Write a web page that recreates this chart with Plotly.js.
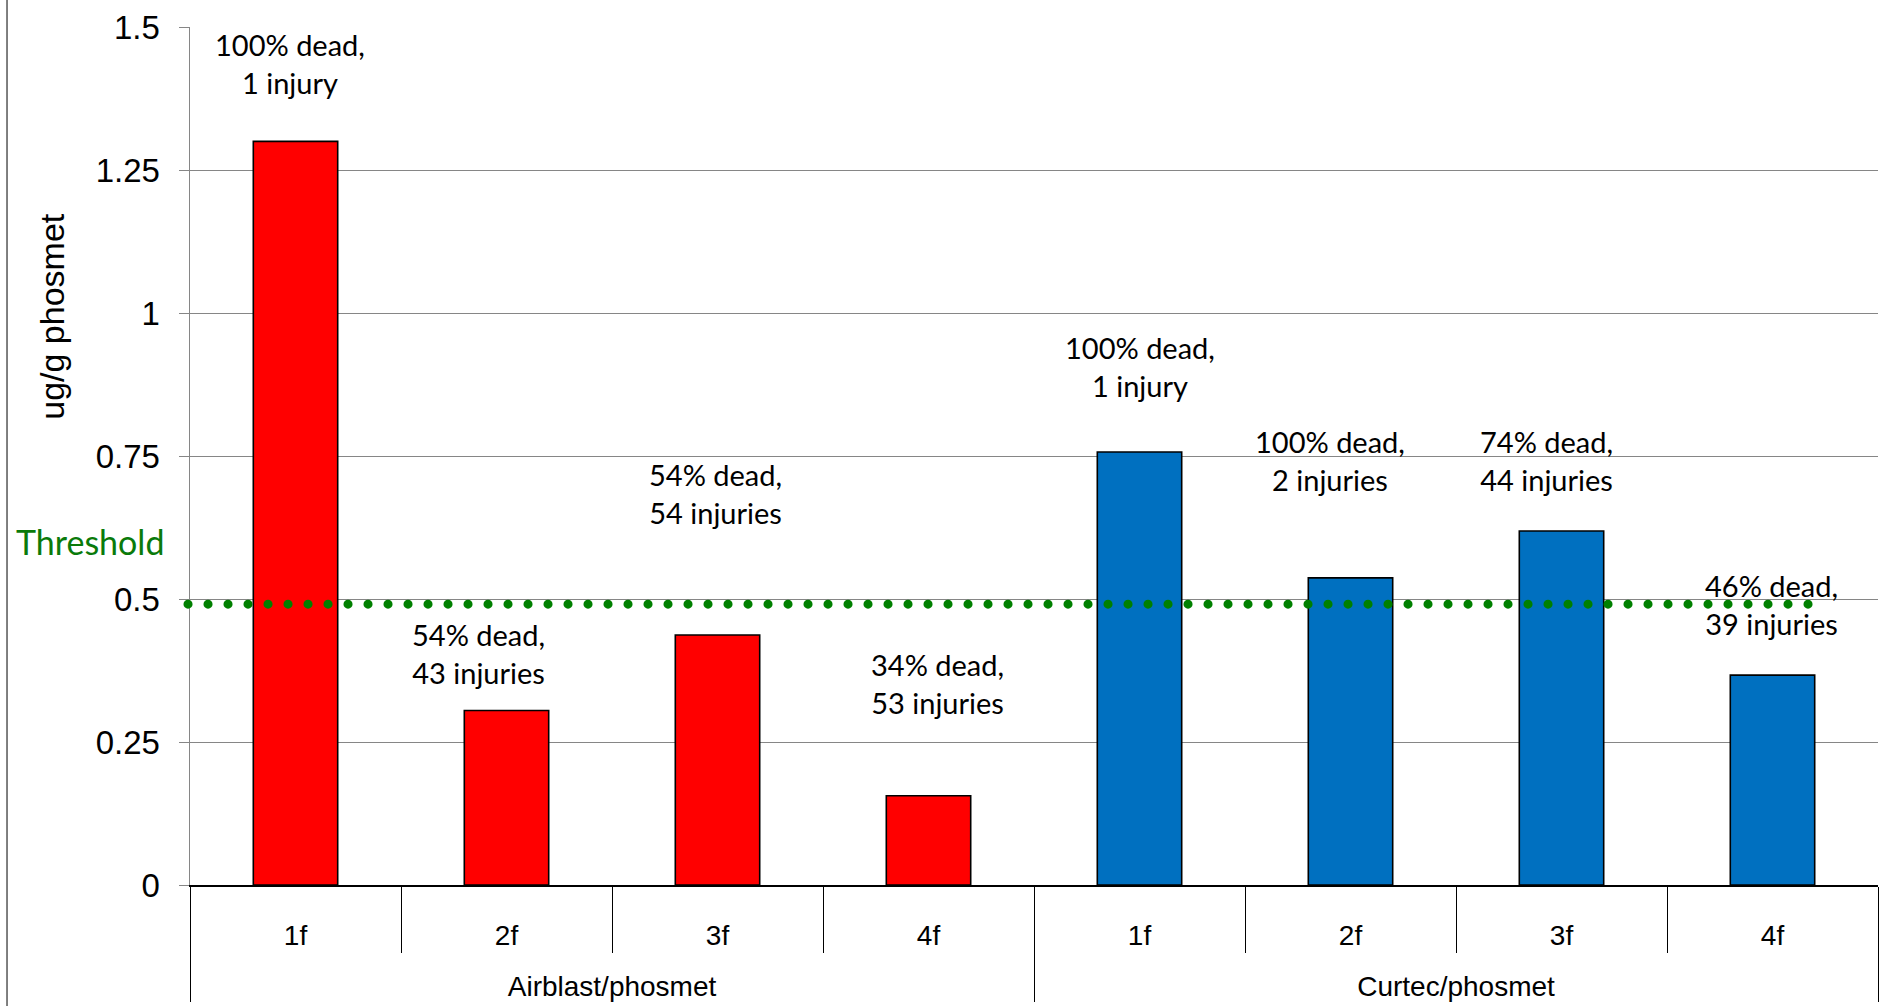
<!DOCTYPE html>
<html>
<head>
<meta charset="utf-8">
<script src="https://cdn.plot.ly/plotly-3.0.1.min.js"></script>
<style>
  html, body { margin: 0; padding: 0; background: #fff; }
  #chart { width: 1879px; height: 1006px; }
  .shapelayer path { stroke-linecap: round !important; }
</style>
</head>
<body>
<div id="chart"></div>
<script>
// ---- data ----
const groups = ['Airblast/phosmet', 'Airblast/phosmet', 'Airblast/phosmet', 'Airblast/phosmet',
                'Curtec/phosmet', 'Curtec/phosmet', 'Curtec/phosmet', 'Curtec/phosmet'];
const categories = ['1f', '2f', '3f', '4f', '1f', '2f', '3f', '4f'];
const values = [1.30, 0.305, 0.437, 0.156, 0.757, 0.537, 0.619, 0.367];
const noteText = [
  '100% dead,<br>1 injury',
  '54% dead,<br>43 injuries',
  '54% dead,<br>54 injuries',
  '34% dead,<br>53 injuries',
  '100% dead,<br>1 injury',
  '100% dead,<br>2 injuries',
  '74% dead,<br>44 injuries',
  '46% dead,<br>39 injuries'
];
// label placement (x as fraction of plot width, y in data units)
const noteX = [0.0592, 0.171, 0.3113, 0.4431, 0.5628, 0.6754, 0.8039, 0.9372];
const noteY = [1.436, 0.404, 0.684, 0.352, 0.907, 0.742, 0.742, 0.490];
const threshold = 0.491;
const yTitle = 'ug/g phosmet';
const thresholdLabel = 'Threshold';

// ---- styles ----
const groupColor = {'Airblast/phosmet': '#FF0000', 'Curtec/phosmet': '#0070C0'};
const noteFont = {family: 'Lato, Calibri, sans-serif', size: 29, color: '#000'};
const arial = 'Arial, "Liberation Sans", sans-serif';

// category labels get an extra invisible line so the group row sits lower
const catLabels = categories.map(c => c + '<br><span style="font-size:56px">\u00a0</span>');

const trace = {
  type: 'bar',
  x: [groups, catLabels],
  y: values,
  marker: {
    color: groups.map(g => groupColor[g]),
    line: {color: '#000', width: 1.6}
  },
  hoverinfo: 'none'
};

const annotations = noteText.map((t, i) => ({
  xref: 'paper', yref: 'y',
  x: noteX[i], y: noteY[i],
  text: t, showarrow: false,
  xanchor: 'center', yanchor: 'middle',
  font: noteFont
}));

annotations.push({
  xref: 'paper', yref: 'y', x: -0.0592, y: 0.60,
  text: thresholdLabel, showarrow: false,
  xanchor: 'center', yanchor: 'middle',
  font: {family: 'Lato, Calibri, sans-serif', size: 34, color: '#0a7a0a'}
});
annotations.push({
  xref: 'paper', yref: 'y', x: -0.0818, y: 0.995,
  text: yTitle, showarrow: false, textangle: -90,
  xanchor: 'center', yanchor: 'middle',
  font: {family: arial, size: 34, color: '#000'}
});

const layout = {
  width: 1879, height: 1006,
  margin: {l: 190, r: 1, t: 27, b: 121, pad: 0},
  paper_bgcolor: '#fff', plot_bgcolor: '#fff',
  showlegend: false,
  bargap: 0.6,
  xaxis: {
    type: 'multicategory',
    showline: true, linecolor: '#000', linewidth: 1.5,
    ticks: 'outside', tickson: 'boundaries', ticklen: 66,
    tickcolor: '#000', tickwidth: 1,
    showdividers: true, dividercolor: '#000', dividerwidth: 1,
    tickfont: {family: arial, size: 28, color: '#000'},
    ticklabelstandoff: 25,
    showgrid: false
  },
  yaxis: {
    range: [0, 1.5], tick0: 0, dtick: 0.25,
    ticks: 'outside', ticklen: 10, tickcolor: '#868686', tickwidth: 1,
    showline: true, linecolor: '#868686', linewidth: 1.5,
    showgrid: true, gridcolor: '#868686', gridwidth: 1,
    zeroline: false,
    tickfont: {family: arial, size: 33, color: '#000'},
    ticklabelstandoff: 12
  },
  shapes: [
    {
      type: 'line', xref: 'paper', yref: 'y',
      x0: -0.0012, x1: 0.9591, y0: threshold, y1: threshold,
      line: {color: '#008000', width: 9, dash: '0.1px,19.9px'}
    },
    {
      type: 'line', xref: 'paper', yref: 'paper',
      x0: -0.1084, x1: -0.1084, y0: -0.15, y1: 1.04,
      line: {color: '#555', width: 1.5}
    }
  ],
  annotations: annotations
};

Plotly.newPlot('chart', [trace], layout, {displayModeBar: false, staticPlot: true});
</script>
</body>
</html>
